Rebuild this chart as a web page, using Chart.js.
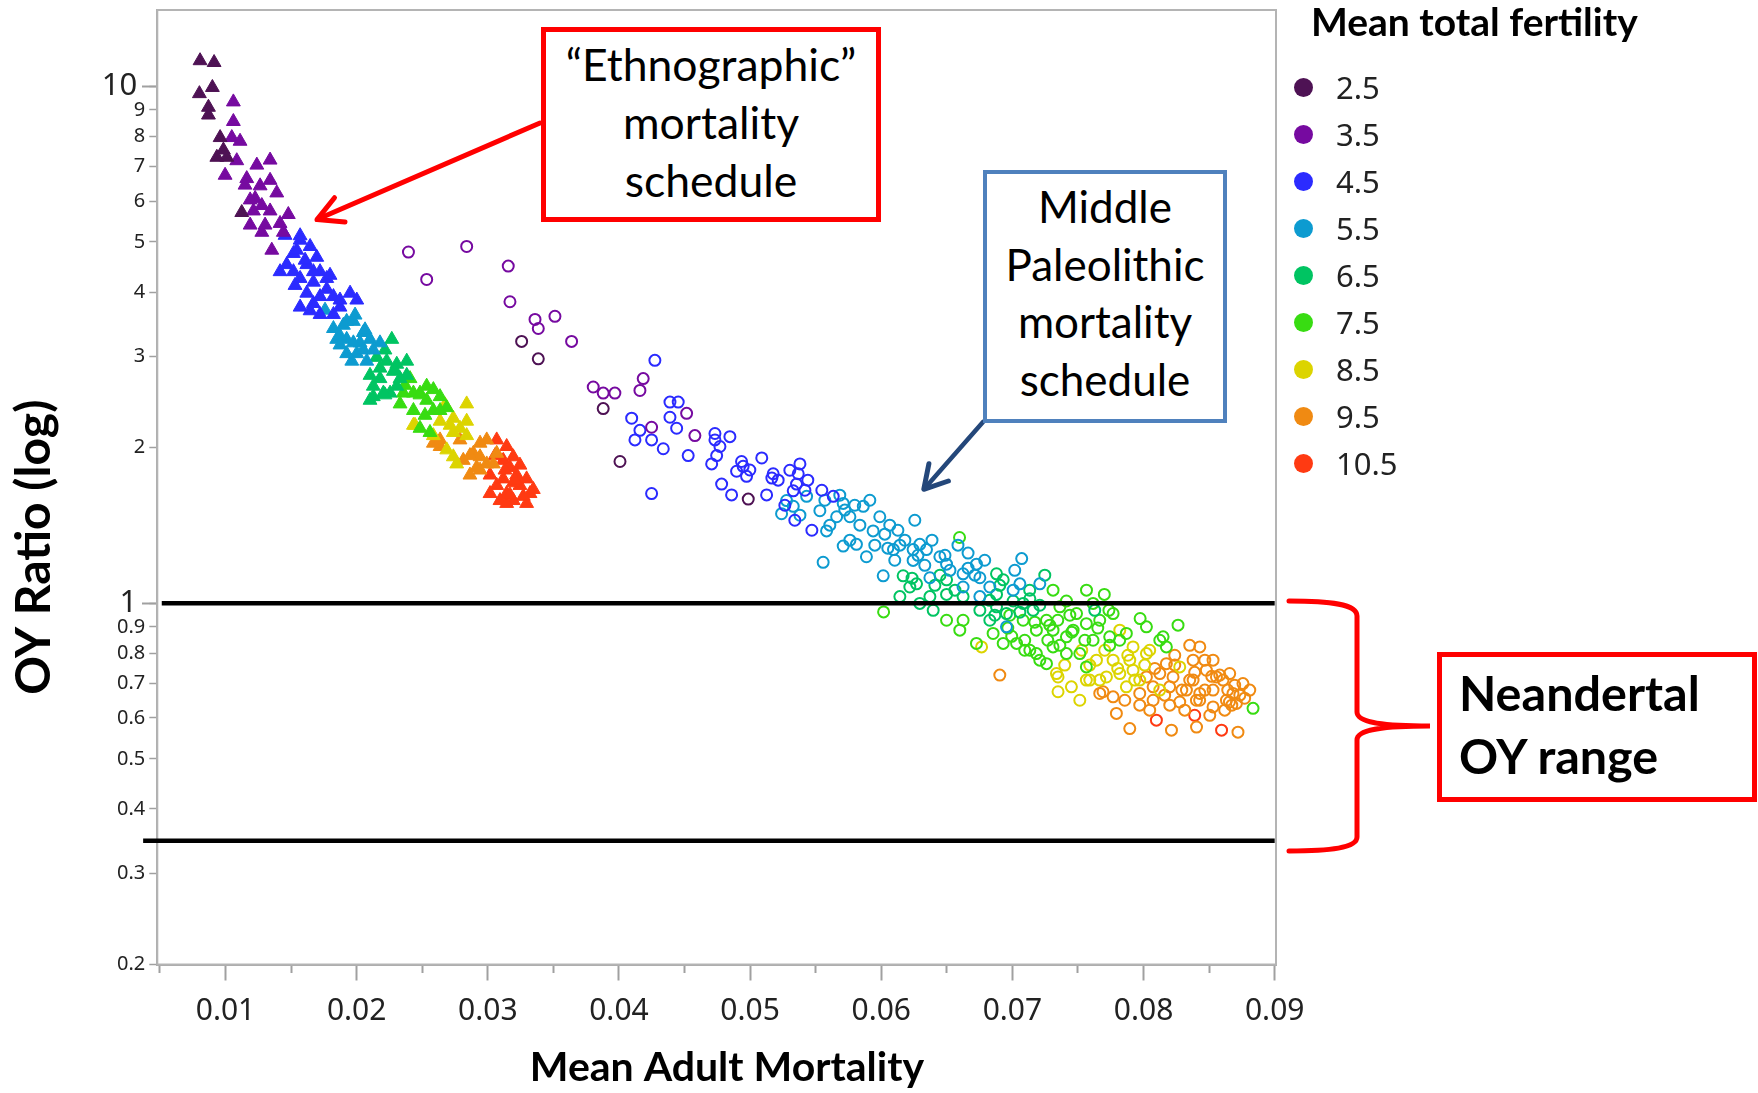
<!DOCTYPE html>
<html>
<head>
<meta charset="utf-8">
<script src="https://cdn.jsdelivr.net/npm/chart.js@4.4.1/dist/chart.umd.min.js"></script>
<style>
  html, body { margin: 0; padding: 0; background: #fff; }
  #wrap { position: relative; width: 1758px; height: 1093px; overflow: hidden; }
  #chart { position: absolute; left: 0; top: 0; }
  #marks { position: absolute; left: 0; top: 0; pointer-events: none; }
  .box { position: absolute; box-sizing: border-box; background: #fff; color: #000; font-family: Lato, "Open Sans", sans-serif; }
  #ethno { left: 541px; top: 27px; width: 340px; height: 195px; border: 5px solid #ff0000; text-align: center; font-size: 44.5px; line-height: 58px; padding-top: 3px; }
  #paleo { left: 983px; top: 170px; width: 244px; height: 253px; border: 4.5px solid #4f81bd; text-align: center; font-size: 44px; line-height: 57.5px; padding-top: 4px; }
  #neand { left: 1437px; top: 652px; width: 320px; height: 150px; border: 5px solid #ff0000; font-weight: 700; font-size: 48.5px; line-height: 63px; padding: 4px 0 0 17px; }
  #legTitle { position: absolute; left: 1311px; top: 2px; font-family: Lato, sans-serif; font-weight: 700; font-size: 39px; line-height: 39px; white-space: nowrap; }
  .legRow { position: absolute; left: 1294px; height: 47px; display: flex; align-items: center; }
  .legDot { width: 19px; height: 19px; border-radius: 50%; }
  .legTxt { margin-left: 23px; font-family: "Noto Sans", sans-serif; font-size: 31px; line-height: 31px; color: #222; }
</style>
</head>
<body>
<div id="wrap">
  <canvas id="chart" width="1758" height="1093"></canvas>
  <svg id="marks" width="1758" height="1093">
    <!-- red arrow to the triangles -->
    <line x1="540" y1="123" x2="318" y2="219" stroke="#ff0000" stroke-width="5" stroke-linecap="round"/>
    <polyline points="345,222 317,219.6 334.5,197.7" fill="none" stroke="#ff0000" stroke-width="5" stroke-linecap="round" stroke-linejoin="round"/>
    <!-- blue arrow to the circles -->
    <line x1="983" y1="422" x2="925" y2="488" stroke="#24477a" stroke-width="4.5" stroke-linecap="round"/>
    <polyline points="948.4,481 923.8,489.3 928.9,463.8" fill="none" stroke="#24477a" stroke-width="5" stroke-linecap="round" stroke-linejoin="round"/>
    <!-- brace for the Neandertal range -->
    <path d="M1289,601 C1330,601 1357,604 1357,616 L1357,712 C1357,722 1380,726 1430,726 C1380,726 1357,730 1357,740 L1357,837 C1357,848 1330,851 1289,851"
          fill="none" stroke="#ff0000" stroke-width="5" stroke-linecap="round"/>
  </svg>
  <div class="box" id="ethno">“Ethnographic”<br>mortality<br>schedule</div>
  <div class="box" id="paleo">Middle<br>Paleolithic<br>mortality<br>schedule</div>
  <div class="box" id="neand">Neandertal<br>OY range</div>
  <div id="legTitle">Mean total fertility</div>
  <div id="legend"></div>
</div>
<script>
// Mittlere Fertilitaet (Legende) und Farben
const fertLevels = [2.5, 3.5, 4.5, 5.5, 6.5, 7.5, 8.5, 9.5, 10.5];
const fertColors = ['#4e1254', '#760aa0', '#2b2bff', '#0d9bd0', '#00c462', '#38dc12', '#dcd400', '#f08a12', '#ff3a12'];

// Achsen
const xTicks = [0.01, 0.02, 0.03, 0.04, 0.05, 0.06, 0.07, 0.08, 0.09];
const xMinorTicks = [0.005, 0.015, 0.025, 0.035, 0.045, 0.055, 0.065, 0.075, 0.085];
const yTicks = [0.2, 0.3, 0.4, 0.5, 0.6, 0.7, 0.8, 0.9, 1, 2, 3, 4, 5, 6, 7, 8, 9, 10];
const yMajorTicks = [1, 10];
const xMin = 0.0048, xMax = 0.0901, yMin = 0.2, yMax = 14.05;

// Neandertal OY range (horizontale Linien)
const refLineY = [1, 0.347];
const refLineStart = [0.00514, 0.00372];
const refLineEnd = 0.0900;

// "Ethnographic" mortality schedule: Dreiecke [Mortalitaet, OY]
const tri25 = [[0.00806,11.21],[0.00913,11.12],[0.00801,9.68],[0.00900,9.95],[0.00870,8.80],[0.00870,9.11],[0.00959,7.96],[0.01010,7.29],[0.00984,7.53],[0.01124,5.70],[0.00934,7.29]];
const tri35 = [[0.01060,9.33],[0.01060,8.55],[0.01048,7.96],[0.01111,7.83],[0.01086,7.18],[0.01239,7.04],[0.01340,7.20],[0.01264,6.42],[0.01340,6.58],[0.01226,6.07],[0.01277,5.88],[0.01340,5.74],[0.01277,5.22],[0.01353,4.82],[0.01416,5.43],[0.01441,5.22],[0.01213,5.74],[0.01479,5.65],[0.01162,6.63],[0.01391,6.22],
  [0.00997,6.73],[0.01149,6.44],[0.01188,6.03],[0.01302,5.39],[0.01188,5.39]];
const tri45 = [[0.01569,5.14],[0.01645,4.90],[0.01696,4.67],[0.01518,4.75],[0.01416,4.38],[0.01518,4.38],[0.01467,4.52],[0.01569,4.25],[0.01670,4.18],[0.01620,4.52],[0.01721,4.38],[0.01569,3.74],[0.01670,3.80],[0.01721,3.92],[0.01772,4.05],[0.01950,3.98],[0.02001,3.86],[0.01823,3.62],[0.01873,3.74],[0.01645,3.68],[0.01543,4.82],[0.01670,4.38],[0.01772,4.25],[0.01823,3.92],[0.01620,3.98],[0.01721,3.62],
  [0.01454,5.15],[0.01569,5.04],[0.01607,4.61],[0.01530,4.12],[0.01797,4.31],[0.01873,3.86]];
const tri55 = [[0.01848,3.24],[0.01924,3.24],[0.01823,3.40],[0.01899,3.45],[0.01975,3.51],[0.02051,3.34],[0.02102,3.24],[0.02001,3.04],[0.02077,2.94],[0.01963,2.94],[0.02026,3.19],[0.02178,3.19],[0.01924,3.51],[0.01873,3.29],[0.01975,3.19],[0.02051,3.09],[0.02127,3.09],[0.01924,3.04],
  [0.01759,3.69],[0.01988,3.61],[0.02064,3.38],[0.01873,3.16]];
const tri65 = [[0.02268,3.24],[0.02127,2.63],[0.02178,2.72],[0.02255,2.55],[0.02178,2.85],[0.02280,2.81],[0.02382,2.94],[0.02382,2.76],[0.02102,2.47],[0.02306,2.63],[0.02153,2.99],[0.02229,2.94],[0.02306,2.90],[0.02331,2.72],[0.02204,2.55],[0.02127,2.51],
  [0.02216,3.09],[0.02292,2.82],[0.02102,2.76],[0.02216,2.53]];
const tri75 = [[0.02331,2.43],[0.02433,2.36],[0.02483,2.55],[0.02534,2.47],[0.02433,2.55],[0.02585,2.36],[0.02636,2.51],[0.02687,2.39],[0.02483,2.18],[0.02559,2.14],[0.02407,2.72],[0.02534,2.63],[0.02585,2.59],[0.02356,2.55],[0.02636,2.36],
  [0.02369,2.64],[0.02483,2.53],[0.02521,2.31]];
const tri85 = [[0.02433,2.21],[0.02839,2.43],[0.02788,2.18],[0.02839,2.11],[0.02737,2.28],[0.02636,2.25],[0.02687,1.98],[0.02737,1.92],[0.02763,1.86],[0.02737,2.14],[0.02839,2.25],[0.02585,2.11],
  [0.02445,2.21],[0.02674,2.42],[0.02712,2.21]];
const tri95 = [[0.02636,2.01],[0.02585,2.04],[0.02813,1.89],[0.02941,2.04],[0.02992,2.07],[0.02890,1.95],[0.02864,1.77],[0.03042,1.86],[0.02941,1.92],[0.02992,1.86],[0.02915,1.83],[0.03068,1.95],
  [0.02636,2.07],[0.02788,2.07],[0.02864,1.93],[0.02941,1.81]];
const tri105 = [[0.03068,2.07],[0.03144,2.01],[0.03118,1.89],[0.03194,1.92],[0.03068,1.69],[0.03144,1.63],[0.03245,1.69],[0.03322,1.63],[0.03296,1.56],[0.03220,1.77],[0.03296,1.74],[0.03093,1.58],[0.03017,1.63],[0.03169,1.83],[0.03347,1.66],[0.03194,1.58],[0.03017,1.77],[0.03118,1.74],[0.03194,1.71],[0.03271,1.61],[0.03144,1.56],
  [0.03055,1.93],[0.03131,1.81],[0.03207,1.73],[0.03245,1.85],[0.03169,1.62]];

// Middle Paleolithic mortality schedule: Kreise [Mortalitaet, OY]
const circ25 = [[0.03385,2.97],[0.03258,3.21],[0.04008,1.88],[0.04986,1.59],[0.03880,2.38]];
const circ35 = [[0.02395,4.78],[0.02839,4.90],[0.03156,4.49],[0.02534,4.23],[0.03169,3.83],[0.03360,3.54],[0.03385,3.40],[0.03512,3.59],[0.03639,3.21],[0.04185,2.72],[0.03804,2.62],[0.03880,2.55],[0.03969,2.55],[0.04249,2.19],[0.04516,2.33],[0.04579,2.11],[0.04160,2.58]];
const circ45 = [[0.04274,2.95],[0.04097,2.28],[0.04160,2.16],[0.04249,2.07],[0.04122,2.07],[0.04338,1.99],[0.04389,2.45],[0.04452,2.45],[0.04389,2.29],[0.04440,2.18],[0.04528,1.93],[0.04249,1.63],[0.04732,2.13],[0.04732,2.07],[0.04846,2.10],[0.04770,2.01],[0.04745,1.93],[0.04707,1.86],[0.04783,1.70],[0.04859,1.62],[0.04897,1.80],[0.04947,1.84],[0.04935,1.88],[0.04998,1.81],[0.04973,1.76],[0.05089,1.91],[0.05126,1.62],[0.05176,1.78],[0.05214,1.73],[0.05380,1.86],[0.05367,1.78],[0.05354,1.70],[0.05329,1.65],[0.05634,1.61],
  [0.05265,1.547],[0.05341,1.447],[0.05418,1.654],[0.05471,1.384],[0.05166,1.746],[0.05303,1.808],[0.05440,1.730],[0.05547,1.654]];
const circ55 = [[0.05278,1.58],[0.05329,1.54],[0.05240,1.49],[0.05380,1.48],[0.05431,1.61],[0.05532,1.51],[0.05710,1.56],[0.05660,1.47],[0.05761,1.47],[0.05863,1.54],[0.05989,1.47],[0.05938,1.38],[0.05583,1.38],[0.05710,1.29],[0.05811,1.30],[0.05887,1.23],[0.06027,1.36],[0.06093,1.27],[0.05557,1.20],[0.06015,1.13],[0.06243,1.27],[0.07071,1.22],[0.06142,1.295],[0.06294,1.30],[0.06345,1.27],[0.06243,1.21],[0.06447,1.23],[0.06498,1.19],[0.06662,1.25],[0.06726,1.19],[0.06371,1.12],[0.06624,1.14],[0.06752,1.12],[0.07057,1.09],[0.07209,1.09],[0.06624,1.075],[0.06828,1.075],[0.07006,1.06],[0.06752,1.03],[0.06955,0.900],
  [0.05570,1.582],[0.05608,1.416],[0.05722,1.514],[0.05761,1.324],[0.05837,1.416],[0.05913,1.582],[0.05951,1.295],[0.06065,1.416],[0.06103,1.211],[0.06180,1.324],[0.06256,1.447],[0.06332,1.184],[0.06524,1.158],[0.06714,1.133],[0.06789,1.211],[0.07018,1.158],
  [0.06050,1.278],[0.06127,1.384],[0.06280,1.238],[0.06387,1.324],[0.06486,1.238],[0.06585,1.295],[0.06662,1.169],[0.05684,1.618],[0.05798,1.547]];
const circ65 = [[0.06167,1.13],[0.06269,1.09],[0.06498,1.11],[0.06879,1.14],[0.06930,1.11],[0.06142,1.03],[0.06371,1.03],[0.06498,1.04],[0.06624,1.03],[0.06879,1.04],[0.07006,1.01],[0.07133,1.02],[0.06218,1.075],[0.06294,0.999],[0.06879,0.984],[0.07082,0.999],[0.06396,0.969],[0.06752,0.969],[0.06955,0.955],[0.07158,0.969],[0.06828,0.927],
  [0.06409,1.083],[0.06562,1.060],[0.06827,1.013],[0.06904,1.083],[0.07132,1.060],[0.07247,1.133],[0.07209,0.991],[0.07628,0.969],
  [0.06448,1.133],[0.06235,1.118],[0.06866,0.948],[0.07057,0.961]];
const circ75 = [[0.06597,1.34],[0.06018,0.962],[0.07565,1.06],[0.07701,1.04],[0.08263,0.907],[0.07974,0.934],[0.07736,0.969],[0.07310,1.06],[0.07412,1.01],[0.06498,0.927],[0.06599,0.887],[0.06726,0.836],[0.06853,0.874],[0.06930,0.836],[0.07032,0.836],[0.07082,0.927],[0.07183,0.887],[0.07260,0.927],[0.07183,0.799],[0.07310,0.823],[0.07412,0.861],[0.07362,0.984],[0.07489,0.955],[0.07463,0.887],[0.07564,0.913],[0.07666,0.927],[0.07768,0.955],[0.07615,0.848],[0.07742,0.861],[0.07869,0.874],[0.08149,0.861],[0.08174,0.823],[0.08835,0.626],[0.07412,0.799],[0.07564,0.753],[0.07260,0.764],[0.07133,0.811],[0.07310,0.887],[0.06624,0.927],[0.07615,0.999],[0.08022,0.900],[0.07514,0.799],
  [0.06980,0.948],[0.07094,0.848],[0.07285,0.907],[0.07362,0.829],[0.07438,0.948],[0.07552,0.848],[0.07818,0.848],[0.08124,0.848],
  [0.06965,0.895],[0.07171,0.919],[0.07270,0.848],[0.07346,0.927],[0.07453,0.879],[0.07651,0.895],[0.07742,0.829],[0.07209,0.776],[0.07094,0.811],[0.06995,0.863]];
const circ85 = [[0.06765,0.823],[0.07348,0.674],[0.07348,0.720],[0.07450,0.689],[0.07641,0.776],[0.07768,0.776],[0.07920,0.823],[0.08022,0.799],[0.07336,0.731],[0.07564,0.710],[0.07819,0.731],[0.07920,0.742],[0.07717,0.720],[0.07869,0.689],[0.07819,0.887],[0.08276,0.753],
  [0.07704,0.811],[0.07895,0.776],[0.08047,0.811],[0.07399,0.759],[0.07514,0.649],[0.07590,0.710],[0.07933,0.710],[0.08009,0.759],
  [0.07529,0.811],[0.07803,0.748],[0.07880,0.793],[0.07971,0.710],[0.08124,0.679],[0.07666,0.710],[0.07590,0.759]];
const circ95 = [[0.06904,0.726],[0.07793,0.612],[0.07895,0.572],[0.08213,0.568],[0.08404,0.576],[0.08720,0.563],[0.08758,0.699],[0.08708,0.640],[0.08632,0.649],[0.07691,0.674],[0.07666,0.669],[0.07768,0.659],[0.08022,0.720],[0.08124,0.731],[0.08174,0.764],[0.08378,0.776],[0.08479,0.742],[0.08199,0.689],[0.08327,0.679],[0.08429,0.669],[0.08530,0.679],[0.07971,0.669],[0.08073,0.649],[0.08276,0.644],[0.08403,0.649],[0.08734,0.664],[0.08655,0.644],[0.08530,0.630],[0.08606,0.710],[0.08556,0.720],[0.08073,0.689],[0.08225,0.720],[0.08378,0.710],[0.08682,0.669],[0.08429,0.823],[0.08530,0.776],[0.08657,0.731],
  [0.08238,0.793],[0.08352,0.829],[0.08467,0.776],[0.08581,0.726],[0.08695,0.694],[0.08810,0.679],[0.07857,0.649],[0.08047,0.621],[0.08161,0.664],[0.08314,0.621],[0.08352,0.710],[0.08505,0.607],[0.08619,0.621],[0.08428,0.649],
  [0.08086,0.748],[0.08238,0.759],[0.08292,0.679],[0.08390,0.735],[0.08467,0.679],[0.08520,0.722],[0.08642,0.679],[0.08673,0.635],[0.08771,0.655],[0.08200,0.635],[0.07971,0.635]];
const circ105 = [[0.08098,0.594],[0.08595,0.568],[0.08390,0.607]];

const triangleSets = [tri25, tri35, tri45, tri55, tri65, tri75, tri85, tri95, tri105];
const circleSets = [circ25, circ35, circ45, circ55, circ65, circ75, circ85, circ95, circ105];

const tickFont = '"Noto Sans", sans-serif';
const titleFont = 'Lato, "Open Sans", sans-serif';
const toPts = arr => arr.map(([x, y]) => ({ x: x, y: y }));

// Legende (HTML)
const legend = document.getElementById('legend');
fertLevels.forEach((f, i) => {
  const row = document.createElement('div');
  row.className = 'legRow';
  row.style.top = (64 + 47 * i) + 'px';
  row.innerHTML = '<div class="legDot" style="background:' + fertColors[i] + '"></div><div class="legTxt">' + f + '</div>';
  legend.appendChild(row);
});

// Linien zuerst -> werden zuletzt (oben) gezeichnet
const lineSets = refLineY.map((y, i) => ({
  data: [{ x: refLineStart[i], y: y }, { x: refLineEnd, y: y }],
  showLine: true,
  borderColor: '#000',
  borderWidth: 4.5,
  pointRadius: 0,
  clip: false
}));

const circleDs = circleSets.map((arr, i) => ({
  label: 'MP ' + fertLevels[i],
  data: toPts(arr),
  pointStyle: 'circle',
  pointRadius: 5.5,
  borderWidth: 2,
  borderColor: fertColors[i],
  backgroundColor: 'rgba(0,0,0,0)'
}));

const triangleDs = triangleSets.map((arr, i) => ({
  label: 'Ethno ' + fertLevels[i],
  data: toPts(arr),
  pointStyle: 'triangle',
  pointRadius: 8,
  borderWidth: 1,
  borderColor: fertColors[i],
  backgroundColor: fertColors[i]
}));

// Rahmen um die Plotflaeche
const framePlugin = {
  id: 'frame',
  beforeDatasetsDraw(chart) {
    const { ctx, chartArea: a } = chart;
    ctx.save();
    ctx.strokeStyle = '#b4b4b4';
    ctx.lineWidth = 2;
    ctx.strokeRect(a.left, a.top, a.right - a.left, a.bottom - a.top);
    ctx.restore();
  }
};

new Chart(document.getElementById('chart'), {
  type: 'scatter',
  data: { datasets: [...lineSets, ...circleDs, ...triangleDs] },
  plugins: [framePlugin],
  options: {
    responsive: false,
    animation: false,
    devicePixelRatio: 1,
    layout: { padding: { left: 0, top: 10, right: 482, bottom: 0 } },
    plugins: { legend: { display: false }, tooltip: { enabled: false } },
    scales: {
      x: {
        type: 'linear',
        min: xMin, max: xMax,
        afterBuildTicks: s => { s.ticks = xTicks.map(v => ({ value: v })); },
        afterFit: s => { s.height = 128.5; s.paddingLeft = 0; s.paddingRight = 0; },
        grid: { drawOnChartArea: false, tickLength: 16, tickWidth: 2, tickColor: '#a0a0a0' },
        border: { color: '#a8a8a8', width: 2 },
        ticks: { callback: v => v.toFixed(2), font: { family: tickFont, size: 30 }, color: '#222', padding: 13, maxRotation: 0 },
        title: { display: true, text: '\u2002Mean Adult Mortality', font: { family: titleFont, size: 41, weight: 'bold', lineHeight: 1 }, color: '#000', padding: { top: 0, bottom: 5 } }
      },
      y: {
        type: 'logarithmic',
        min: yMin, max: yMax,
        afterBuildTicks: s => { s.ticks = yTicks.map(v => ({ value: v })); },
        afterFit: s => { s.width = 157.3; s.paddingTop = 0; s.paddingBottom = 0; },
        grid: { drawOnChartArea: false, tickLength: 8, tickWidth: 1.5, tickColor: '#a0a0a0' },
        border: { color: '#a8a8a8', width: 2 },
        ticks: {
          autoSkip: false,
          callback: v => yMajorTicks.includes(v) ? v + ' ' : String(v),
          font: c => (c.tick && yMajorTicks.includes(c.tick.value)) ? { family: tickFont, size: 31 } : { family: tickFont, size: 20 },
          color: '#222',
          padding: 4
        },
        title: { display: true, text: 'OY Ratio (log)\u2002\u2002\u2002\u2002\u2002', font: { family: titleFont, size: 48, weight: 'bold', lineHeight: 1 }, color: '#000', padding: { top: 11, bottom: 0 } }
      },
      xMinor: {
        type: 'linear',
        position: { y: yMin },
        min: xMin, max: xMax,
        afterBuildTicks: s => { s.ticks = xMinorTicks.map(v => ({ value: v })); },
        grid: { drawOnChartArea: false, tickLength: 8, tickWidth: 2, tickColor: '#a0a0a0' },
        border: { display: false },
        ticks: { display: false }
      },
      yMajor: {
        type: 'logarithmic',
        position: { x: xMin },
        min: yMin, max: yMax,
        afterBuildTicks: s => { s.ticks = yMajorTicks.map(v => ({ value: v })); },
        grid: { drawOnChartArea: false, tickLength: 15, tickWidth: 2, tickColor: '#a0a0a0' },
        border: { display: false },
        ticks: { display: false }
      }
    }
  }
});
</script>
</body>
</html>
